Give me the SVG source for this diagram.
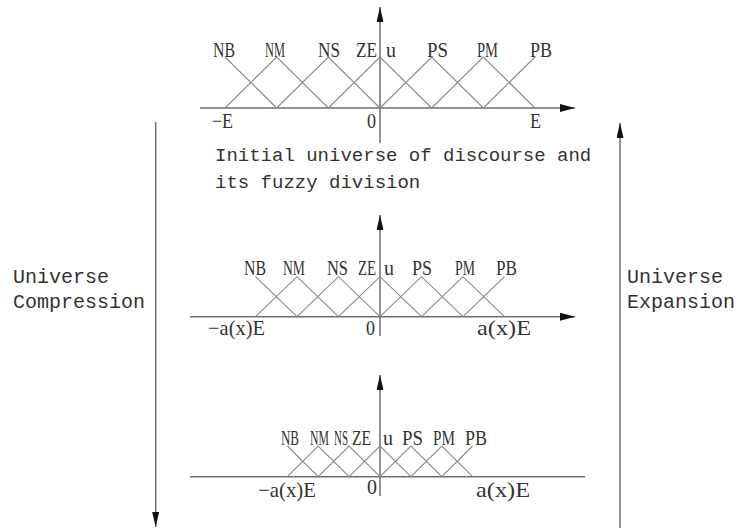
<svg xmlns="http://www.w3.org/2000/svg" width="737" height="531" viewBox="0 0 737 531">
<style>
.ax{stroke:#6e6e6e;stroke-width:1.5;fill:none}
.mf{stroke:#8a8a8a;stroke-width:1.1;fill:none}
.lb{font-family:"Liberation Serif",serif;font-size:21px;fill:#333}
.tx{font-family:"Liberation Mono",monospace;font-size:19px;fill:#333}
.sd{font-family:"Liberation Mono",monospace;font-size:20px;fill:#333}
</style>
<defs>
<marker id="ah" markerUnits="userSpaceOnUse" markerWidth="16" markerHeight="8" refX="15" refY="4" orient="auto">
<path d="M0,0 L15,4 L0,8 z" fill="#111"/>
</marker>
<marker id="ahs" markerUnits="userSpaceOnUse" markerWidth="16" markerHeight="8" refX="15" refY="3.5" orient="auto">
<path d="M0,0 L15,3.5 L0,7 z" fill="#111"/>
</marker>
</defs>
<rect width="737" height="531" fill="#fff"/>

<g id="chart-initial">
<line class="ax" x1="200" y1="108" x2="575" y2="108" marker-end="url(#ah)"/>
<line class="ax" x1="380" y1="143" x2="380" y2="7" marker-end="url(#ahs)"/>
<path class="mf" d="M225,57 L276.7,108 M225,108 L276.7,57 L328.3,108 M276.7,108 L328.3,57 L380,108 M328.3,108 L380,57 L431.7,108 M380,108 L431.7,57 L483.3,108 M431.7,108 L483.3,57 L535,108 M483.3,108 L535,57"/>
<text class="lb" x="213" y="57" textLength="22" lengthAdjust="spacingAndGlyphs">NB</text>
<text class="lb" x="265" y="57" textLength="20" lengthAdjust="spacingAndGlyphs">NM</text>
<text class="lb" x="318" y="57" textLength="22" lengthAdjust="spacingAndGlyphs">NS</text>
<text class="lb" x="356" y="57" textLength="21" lengthAdjust="spacingAndGlyphs">ZE</text>
<text class="lb" x="386" y="57" textLength="10" lengthAdjust="spacingAndGlyphs">u</text>
<text class="lb" x="427" y="57" textLength="21" lengthAdjust="spacingAndGlyphs">PS</text>
<text class="lb" x="477" y="57" textLength="21" lengthAdjust="spacingAndGlyphs">PM</text>
<text class="lb" x="530" y="57" textLength="22" lengthAdjust="spacingAndGlyphs">PB</text>
<text class="lb" x="212" y="128" textLength="21" lengthAdjust="spacingAndGlyphs">−E</text>
<text class="lb" x="367" y="128" textLength="9" lengthAdjust="spacingAndGlyphs">0</text>
<text class="lb" x="530" y="128" textLength="11" lengthAdjust="spacingAndGlyphs">E</text>
</g>

<g id="caption">
<text class="tx" x="215" y="161">Initial universe of discourse and</text>
<text class="tx" x="215" y="188">its fuzzy division</text>
</g>

<g id="chart-compressed">
<line class="ax" x1="190" y1="316.7" x2="575" y2="316.7" marker-end="url(#ah)"/>
<line class="ax" x1="380" y1="336" x2="380" y2="215" marker-end="url(#ahs)"/>
<path class="mf" d="M255.5,276.7 L297,316.7 M255.5,316.7 L297,276.7 L338.5,316.7 M297,316.7 L338.5,276.7 L380,316.7 M338.5,316.7 L380,276.7 L421.5,316.7 M380,316.7 L421.5,276.7 L463,316.7 M421.5,316.7 L463,276.7 L504.5,316.7 M463,316.7 L504.5,276.7"/>
<text class="lb" x="244" y="275" textLength="22" lengthAdjust="spacingAndGlyphs">NB</text>
<text class="lb" x="283" y="275" textLength="22" lengthAdjust="spacingAndGlyphs">NM</text>
<text class="lb" x="327" y="275" textLength="21" lengthAdjust="spacingAndGlyphs">NS</text>
<text class="lb" x="358" y="275" textLength="18" lengthAdjust="spacingAndGlyphs">ZE</text>
<text class="lb" x="384" y="275" textLength="10" lengthAdjust="spacingAndGlyphs">u</text>
<text class="lb" x="412" y="275" textLength="20" lengthAdjust="spacingAndGlyphs">PS</text>
<text class="lb" x="455" y="275" textLength="20" lengthAdjust="spacingAndGlyphs">PM</text>
<text class="lb" x="496" y="275" textLength="21" lengthAdjust="spacingAndGlyphs">PB</text>
<text class="lb" x="208" y="335" textLength="57" lengthAdjust="spacingAndGlyphs">−a(x)E</text>
<text class="lb" x="366" y="335" textLength="9" lengthAdjust="spacingAndGlyphs">0</text>
<text class="lb" x="477" y="335" textLength="54" lengthAdjust="spacingAndGlyphs">a(x)E</text>
</g>

<g id="chart-compressed-further">
<line class="ax" x1="190" y1="476.7" x2="585" y2="476.7"/>
<line class="ax" x1="380" y1="496" x2="380" y2="375" marker-end="url(#ahs)"/>
<path class="mf" d="M287.3,446 L318.2,476.7 M287.3,476.7 L318.2,446 L349.1,476.7 M318.2,476.7 L349.1,446 L380,476.7 M349.1,476.7 L380,446 L410.9,476.7 M380,476.7 L410.9,446 L441.8,476.7 M410.9,476.7 L441.8,446 L472.7,476.7 M441.8,476.7 L472.7,446"/>
<text class="lb" x="281" y="445" textLength="18" lengthAdjust="spacingAndGlyphs">NB</text>
<text class="lb" transform="matrix(0.56,0,0,1,310,445)">NM</text>
<text class="lb" transform="matrix(0.52,0,0,1,334,445)">NS</text>
<text class="lb" transform="matrix(0.74,0,0,1,352,445)">ZE</text>
<text class="lb" x="383" y="445" textLength="10" lengthAdjust="spacingAndGlyphs">u</text>
<text class="lb" x="402" y="445" textLength="21" lengthAdjust="spacingAndGlyphs">PS</text>
<text class="lb" x="433" y="445" textLength="22" lengthAdjust="spacingAndGlyphs">PM</text>
<text class="lb" x="465" y="445" textLength="22" lengthAdjust="spacingAndGlyphs">PB</text>
<text class="lb" x="258" y="497" textLength="58" lengthAdjust="spacingAndGlyphs">−a(x)E</text>
<text class="lb" x="367" y="494" textLength="10" lengthAdjust="spacingAndGlyphs">0</text>
<text class="lb" x="476" y="497" textLength="54" lengthAdjust="spacingAndGlyphs">a(x)E</text>
</g>

<g id="label-compression">
<text class="sd" x="13" y="283">Universe</text>
<text class="sd" x="13" y="308">Compression</text>
</g>
<g id="label-expansion">
<text class="sd" x="627" y="283">Universe</text>
<text class="sd" x="627" y="308">Expansion</text>
</g>

<g id="connectors">
<line class="ax" x1="155.7" y1="122" x2="155.7" y2="527" marker-end="url(#ahs)"/>
<line class="ax" x1="620" y1="528" x2="620" y2="123" marker-end="url(#ahs)"/>
</g>
</svg>
